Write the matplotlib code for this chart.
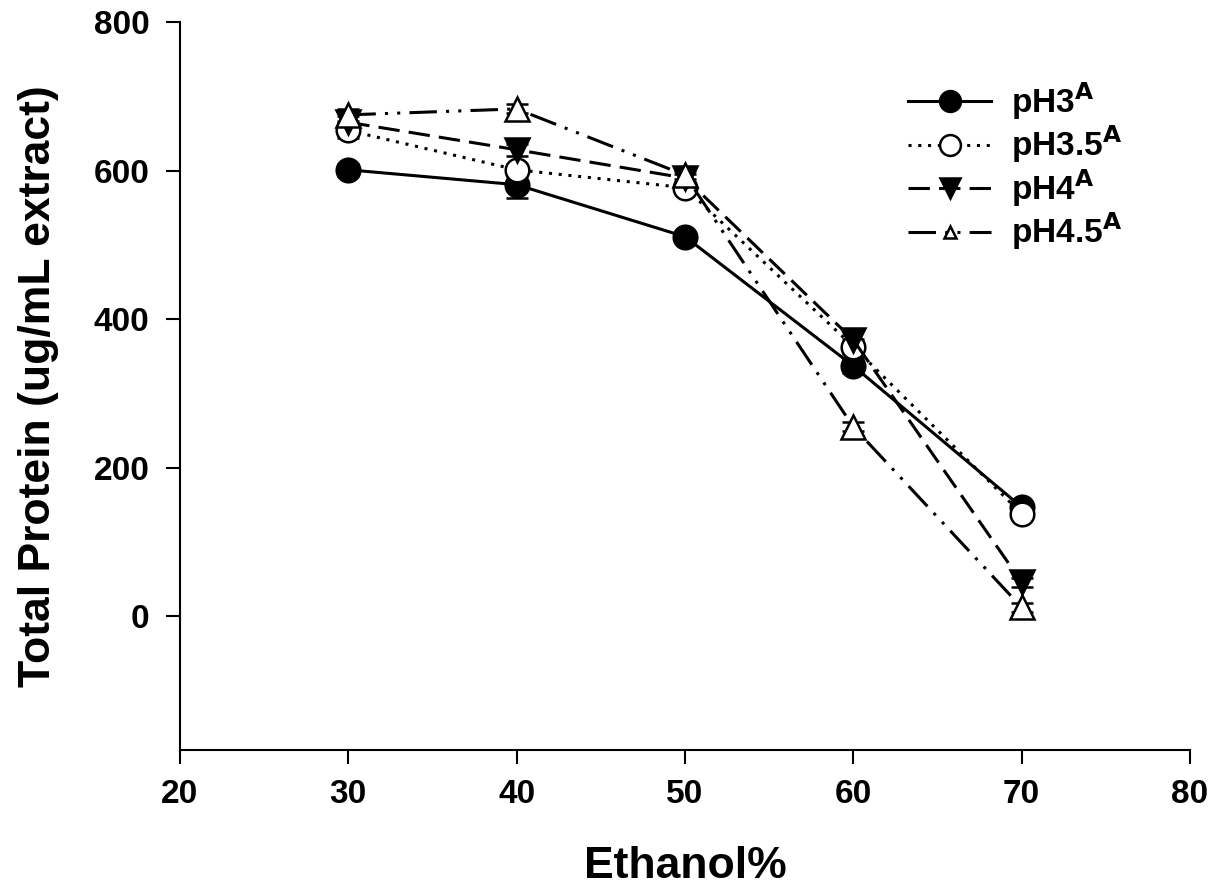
import matplotlib
matplotlib.use('Agg')
import matplotlib.pyplot as plt
from matplotlib.lines import Line2D

plt.rcParams['font.family'] = ['Liberation Sans', 'DejaVu Sans']
plt.rcParams['font.weight'] = 'bold'
plt.rcParams['mathtext.default'] = 'bf'

ethanol = [30, 40, 50, 60, 70]
ph3 = [601, 581, 511, 337, 147]
ph3_err = [8, 18, 6, 10, 6]
ph35 = [654, 601, 577, 363, 138]
ph35_err = [10, 8, 6, 10, 6]
ph4 = [665, 628, 590, 372, 46]
ph4_err = [8, 8, 6, 12, 6]
ph45 = [675, 683, 594, 255, 12]
ph45_err = [8, 6, 6, 6, 6]

labels = ['pH3$^{A}$', 'pH3.5$^{A}$', 'pH4$^{A}$', 'pH4.5$^{A}$']

fig = plt.figure(figsize=(12.15, 8.92), dpi=100)
ax = fig.add_axes([180 / 1215, 1 - 750 / 892, 1010 / 1215, 728 / 892])

series = [
    (ph3, ph3_err, 'o', 'black', '-'),
    (ph35, ph35_err, 'o', 'white', (0, (1, 2.2))),
    (ph4, ph4_err, 'v', 'black', (0, (7, 3))),
    (ph45, ph45_err, '^', 'white', (0, (9, 3, 1, 3, 1, 3))),
]
for vals, errs, marker, face, ls in series:
    ax.errorbar(ethanol, vals, yerr=errs, color='black', linestyle=ls, linewidth=2.2,
                marker=marker, markersize=17, markerfacecolor=face,
                markeredgecolor='black', markeredgewidth=1.8,
                capsize=8, elinewidth=1.5)

# legend uses smaller markers than the plot, and a tiny triangle for pH4.5
legend_ms = [15, 15, 15, 9]
handles = []
for (vals, errs, marker, face, ls), lms in zip(series, legend_ms):
    handles.append(Line2D([], [], color='black', linestyle=ls, linewidth=2.2,
                          marker=marker, markersize=lms, markerfacecolor=face,
                          markeredgecolor='black', markeredgewidth=1.8))

ax.set_xlim(20, 80)
ax.set_ylim(-180, 800)
ax.set_xticks([20, 30, 40, 50, 60, 70, 80])
ax.set_yticks([0, 200, 400, 600, 800])
ax.spines['top'].set_visible(False)
ax.spines['right'].set_visible(False)
ax.spines['left'].set_linewidth(1.5)
ax.spines['bottom'].set_linewidth(1.5)
ax.tick_params(direction='out', length=10, width=1.5, labelsize=24)
ax.tick_params(axis='x', pad=11)
ax.tick_params(axis='y', pad=12)
for t in ax.get_xticklabels() + ax.get_yticklabels():
    t.set_fontweight('bold')

ax.set_xlabel('Ethanol%', fontsize=32, fontweight='bold', labelpad=26)
ax.set_ylabel('Total Protein (ug/mL extract)', fontsize=32, fontweight='bold', labelpad=25)

ax.legend(handles, labels, loc='upper left', bbox_to_anchor=(908 / 1215, 1 - 80 / 892),
          bbox_transform=fig.transFigure, frameon=False, borderpad=0, borderaxespad=0,
          handlelength=2.5, handletextpad=0.6, labelspacing=0.05,
          prop={'weight': 'bold', 'size': 24})

fig.savefig('out.png', dpi=100)
